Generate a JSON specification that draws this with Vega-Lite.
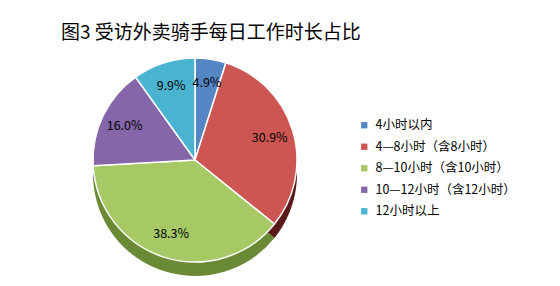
{
  "$schema": "https://vega.github.io/schema/vega-lite/v6.json",
  "width": 300,
  "height": 210,
  "autosize": "none",
  "padding": {"left": 45, "top": 55, "right": 215, "bottom": 21},
  "background": "white",
  "config": {"view": {"stroke": null}, "font": "Noto Sans CJK SC"},
  "title": {
    "text": "图3  受访外卖骑手每日工作时长占比",
    "anchor": "start",
    "dx": 16,
    "offset": 12,
    "fontSize": 19,
    "fontWeight": "normal",
    "color": "#000000",
    "font": "Noto Sans CJK SC"
  },
  "data": {
    "values": [
      {"category": "4小时以内", "share": 4.9, "order": 1, "label": "4.9%"},
      {"category": "4—8小时（含8小时）", "share": 30.9, "order": 2, "label": "30.9%"},
      {"category": "8—10小时（含10小时）", "share": 38.3, "order": 3, "label": "38.3%"},
      {"category": "10—12小时（含12小时）", "share": 16.0, "order": 4, "label": "16.0%"},
      {"category": "12小时以上", "share": 9.9, "order": 5, "label": "9.9%"}
    ]
  },
  "encoding": {
    "theta": {"field": "share", "type": "quantitative", "stack": true},
    "order": {"field": "order", "type": "quantitative"}
  },
  "layer": [
    {
      "mark": {"type": "arc", "outerRadius": 102, "y": {"expr": "height/2 + 14"}},
      "encoding": {
        "color": {
          "field": "category",
          "type": "nominal",
          "sort": ["4小时以内", "4—8小时（含8小时）", "8—10小时（含10小时）", "10—12小时（含12小时）", "12小时以上"],
          "scale": {"range": ["#2f5685", "#5a1a1a", "#6a8a35", "#4f3a6c", "#2a7a90"]},
          "legend": null
        }
      }
    },
    {
      "mark": {"type": "arc", "outerRadius": 102, "stroke": "white", "strokeWidth": 1.5},
      "encoding": {
        "color": {
          "field": "category",
          "type": "nominal",
          "sort": ["4小时以内", "4—8小时（含8小时）", "8—10小时（含10小时）", "10—12小时（含12小时）", "12小时以上"],
          "scale": {"range": ["#5486c4", "#cd5652", "#a6c865", "#8566a8", "#4ab4d0"]},
          "legend": {
            "title": null,
            "orient": "none",
            "legendX": 313,
            "legendY": 64,
            "symbolType": "square",
            "symbolSize": 40,
            "symbolStrokeWidth": 0,
            "labelFontSize": 12.5,
            "labelColor": "#000000",
            "labelFont": "Noto Sans CJK SC",
            "rowPadding": 8.5,
            "labelOffset": 5,
            "labelLimit": 200
          }
        }
      }
    },
    {
      "mark": {"type": "text", "radius": 78, "fontSize": 12.5, "color": "#000000", "font": "Noto Sans CJK SC"},
      "encoding": {
        "text": {"field": "label", "type": "nominal"}
      }
    }
  ],
  "resolve": {"scale": {"color": "independent"}}
}
